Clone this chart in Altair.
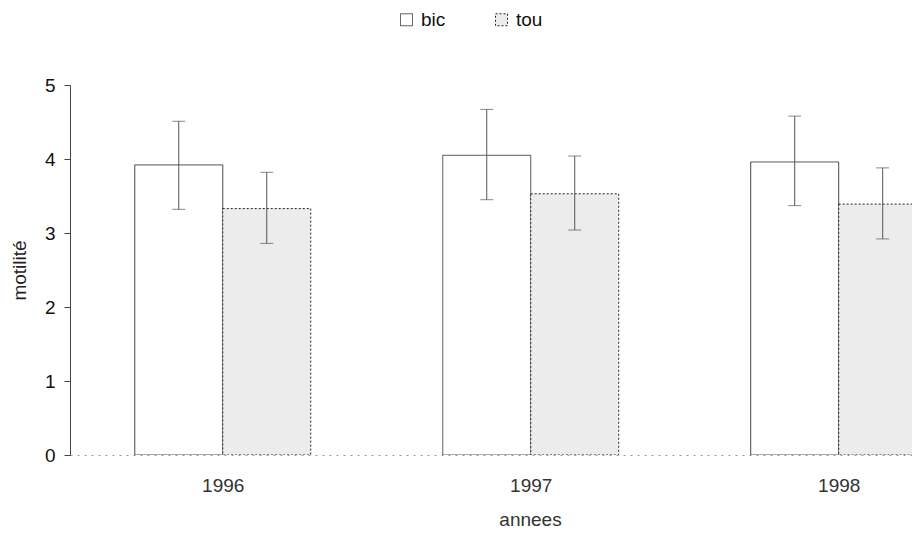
import altair as alt
import pandas as pd

years = [1996, 1997, 1998]
bic_mean = [3.92, 4.05, 3.96]
bic_lo = [3.32, 3.45, 3.37]
bic_hi = [4.51, 4.67, 4.58]
tou_mean = [3.33, 3.53, 3.39]
tou_lo = [2.86, 3.04, 2.92]
tou_hi = [3.82, 4.04, 3.88]
series = ["bic", "tou"]
half = 0.2857  # bar width in year units

rows = []
for i, y in enumerate(years):
    rows.append({"annee": y, "serie": "bic", "m": bic_mean[i], "lo": bic_lo[i], "hi": bic_hi[i],
                 "x0": y - half, "x1": y, "xc": y - half / 2})
    rows.append({"annee": y, "serie": "tou", "m": tou_mean[i], "lo": tou_lo[i], "hi": tou_hi[i],
                 "x0": y, "x1": y + half, "xc": y + half / 2})
df = pd.DataFrame(rows)

xscale = alt.Scale(domain=[1995.504, 1998.238], nice=False, zero=False)
yscale = alt.Scale(domain=[0, 5], nice=False)

base = alt.Chart(df)

bars = base.mark_bar(clip=True, strokeWidth=1).encode(
    x=alt.X("x0:Q", scale=xscale,
            axis=alt.Axis(values=years, format="d", title="annees", ticks=False,
                          labelFontSize=19, labelColor="#333", labelPadding=21,
                          titleFontSize=19, titleFontWeight="normal", titleColor="#333",
                          titlePadding=15, titleX=460, titleAlign="center", grid=False,
                          domainColor="#999", domainDash=[2, 5])),
    x2="x1:Q",
    y=alt.Y("m:Q", scale=yscale,
            axis=alt.Axis(values=[0, 1, 2, 3, 4, 5], format="d", title="motilité", tickSize=6,
                          labelFontSize=19, labelColor="#111", labelPadding=9,
                          titleFontSize=19, titleFontWeight="normal", titleColor="#222",
                          titlePadding=15, grid=False, domainColor="#444",
                          tickColor="#444")),
    y2=alt.Y2(datum=0),
    fill=alt.Fill("serie:N", scale=alt.Scale(domain=series, range=["#ffffff", "#ececec"]),
                  legend=alt.Legend(title=None, orient="none", direction="horizontal",
                                    legendX=327, legendY=-75, symbolType="square",
                                    symbolSize=144, symbolStrokeColor="#222",
                                    symbolStrokeWidth=1, labelFontSize=19,
                                    labelColor="#111", labelOffset=5,
                                    columnPadding=46)),
    stroke=alt.Stroke("serie:N", scale=alt.Scale(domain=series, range=["#444444", "#222222"]),
                      legend=None),
    strokeDash=alt.StrokeDash("serie:N", scale=alt.Scale(domain=series, range=[[1, 0], [2, 2]]),
                              legend=None),
)

rules = base.mark_rule(clip=True, color="#555", strokeWidth=1).encode(
    x=alt.X("xc:Q", scale=xscale), y=alt.Y("lo:Q", scale=yscale), y2="hi:Q"
)
cap_hi = base.mark_tick(clip=True, color="#555", orient="horizontal", size=13, thickness=1).encode(
    x=alt.X("xc:Q", scale=xscale), y=alt.Y("hi:Q", scale=yscale)
)
cap_lo = base.mark_tick(clip=True, color="#555", orient="horizontal", size=13, thickness=1).encode(
    x=alt.X("xc:Q", scale=xscale), y=alt.Y("lo:Q", scale=yscale)
)

chart = alt.layer(bars, rules, cap_hi, cap_lo).properties(
    width=842, height=370,
    autosize=alt.AutoSizeParams(type="none"),
    padding={"left": 62, "top": 77, "right": 0, "bottom": 84},
).configure(font="Liberation Sans", view=alt.ViewConfig(stroke=None))

chart.save("out.html", embed_options={"renderer": "svg", "actions": False})
